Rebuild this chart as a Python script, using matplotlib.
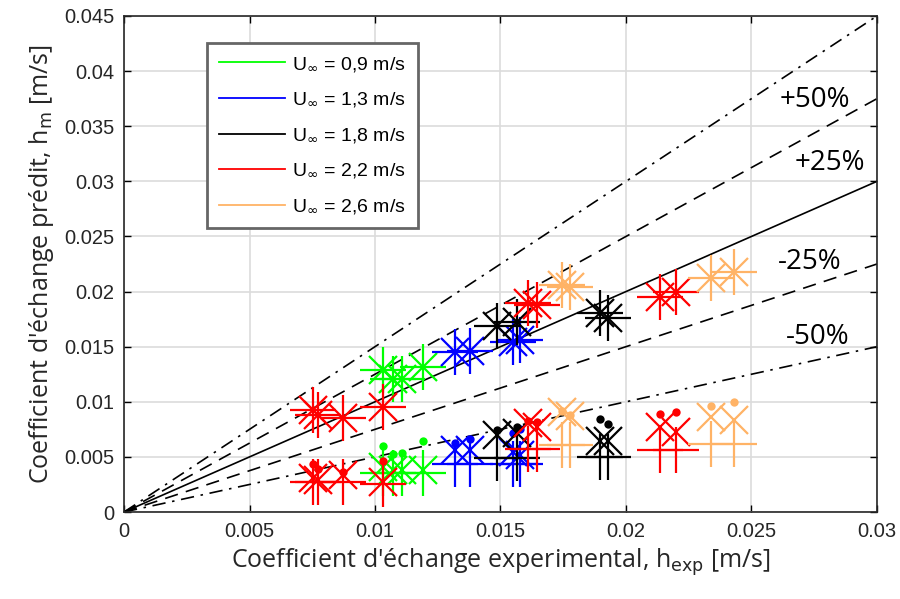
import numpy as np
import matplotlib.pyplot as plt

# Vitesses et couleurs
labels = ['0,9', '1,3', '1,8', '2,2', '2,6']
colors = ['#00ff00', '#0000ff', '#000000', '#ff0000', '#ffb366']

# h_exp [m/s] pour chaque vitesse
h_exp_09 = [0.0103, 0.0107, 0.01106, 0.01192]
h_exp_13 = [0.01319, 0.01378, 0.0155, 0.01578]
h_exp_18 = [0.01486, 0.01566, 0.01898, 0.01927]
h_exp_22 = [0.00753, 0.00773, 0.00872, 0.01032, 0.0161, 0.01645, 0.02137, 0.0220]
h_exp_26 = [0.01745, 0.01777, 0.02337, 0.0243]

# h_m predit, modele 1 (asterisques)
hm_ast_09 = [0.01288, 0.01207, 0.01207, 0.01318]
hm_ast_13 = [0.01454, 0.01465, 0.01545, 0.0156]
hm_ast_18 = [0.01688, 0.0172, 0.01805, 0.0176]
hm_ast_22 = [0.0093, 0.0088, 0.0085, 0.0095, 0.0190, 0.0188, 0.0195, 0.0200]
hm_ast_26 = [0.0206, 0.0204, 0.0212, 0.0218]

# modele 2 (points)
hm_dot_09 = [0.0060, 0.00524, 0.00538, 0.00644]
hm_dot_13 = [0.00629, 0.0066, 0.00714, 0.0075]
hm_dot_18 = [0.0074, 0.0077, 0.0084, 0.0080]
hm_dot_22 = [0.00436, 0.0039, 0.0036, 0.0046, 0.0083, 0.0082, 0.0089, 0.0091]
hm_dot_26 = [0.0092, 0.0088, 0.00964, 0.0100]

# modele 3 (croix x)
hm_x_09 = [0.0041, 0.0038, 0.0038, 0.0038]
hm_x_13 = [0.00563, 0.00563, 0.00547, 0.00517]
hm_x_18 = [0.0070, 0.0072, 0.0064, 0.0064]
hm_x_22 = [0.0031, 0.0029, 0.0034, 0.0027, 0.0081, 0.0077, 0.0077, 0.0073]
hm_x_26 = [0.0091, 0.0087, 0.00865, 0.00835]

# modele 4 (croix +)
hm_p_09 = [0.0035, 0.0035, 0.0035, 0.0035]
hm_p_13 = [0.00435, 0.00435, 0.00435, 0.00435]
hm_p_18 = [0.0049, 0.0049, 0.0050, 0.0050]
hm_p_22 = [0.0027, 0.0027, 0.0027, 0.0025, 0.0057, 0.0057, 0.0056, 0.0056]
hm_p_26 = [0.0061, 0.0061, 0.0062, 0.0062]

series = [
    (h_exp_09, hm_ast_09, hm_dot_09, hm_x_09, hm_p_09),
    (h_exp_13, hm_ast_13, hm_dot_13, hm_x_13, hm_p_13),
    (h_exp_18, hm_ast_18, hm_dot_18, hm_x_18, hm_p_18),
    (h_exp_22, hm_ast_22, hm_dot_22, hm_x_22, hm_p_22),
    (h_exp_26, hm_ast_26, hm_dot_26, hm_x_26, hm_p_26),
]

fig = plt.figure(figsize=(9, 5.99), dpi=100)
ax = fig.add_axes([0.1378, 0.1452, 0.8366, 0.8281])

# droites de reference
xl = np.array([0, 0.03])
ax.plot(xl, xl, 'k-', lw=1.2)
ax.plot(xl, 1.25 * xl, 'k', lw=1.2, dashes=(8, 5))
ax.plot(xl, 0.75 * xl, 'k', lw=1.2, dashes=(8, 5))
ax.plot(xl, 1.5 * xl, 'k', lw=1.2, dashes=(8, 4, 1.5, 4))
ax.plot(xl, 0.5 * xl, 'k', lw=1.2, dashes=(8, 4, 1.5, 4))

mew = 1.6
for (hx, ha, hd, hxx, hp), c in zip(series, colors):
    ax.plot(hx, ha, '+', color=c, ms=33, mew=mew, ls='none')
    ax.plot(hx, ha, 'x', color=c, ms=19.5, mew=mew, ls='none')
    ax.plot(hx, hp, '+', color=c, ms=33, mew=mew, ls='none')
    ax.plot(hx, hxx, 'x', color=c, ms=19.5, mew=mew, ls='none')
    ax.plot(hx, hd, 'o', color=c, ms=6, mew=0, ls='none')

# legende
handles = [plt.Line2D([], [], color=c, lw=1.3) for c in colors]
leg = ax.legend(handles, ['U$_\\infty$ = %s m/s' % l for l in labels],
                loc='upper left', bbox_to_anchor=(0.11, 0.945), borderaxespad=0,
                prop={'family': 'Liberation Sans', 'size': 14},
                handlelength=3.4, handletextpad=0.4, labelspacing=0.87,
                borderpad=0.6, fancybox=False, framealpha=1, shadow=False)
leg.get_frame().set_edgecolor('#666666')
leg.get_frame().set_linewidth(2)

# etiquettes des droites
pfont = {'family': 'Open Sans', 'size': 20, 'va': 'center'}
ax.text(0.02614, 0.03738, '+50%', **pfont)
ax.text(0.02673, 0.03167, '+25%', **pfont)
ax.text(0.02606, 0.02268, '-25%', **pfont)
ax.text(0.02639, 0.01588, '-50%', **pfont)

ax.set_xlim(0, 0.03)
ax.set_ylim(0, 0.045)
ax.set_xticks(np.arange(0, 0.0301, 0.005))
ax.set_yticks(np.arange(0, 0.0451, 0.005))
ax.set_xticklabels(['0', '0.005', '0.01', '0.015', '0.02', '0.025', '0.03'])
ax.set_yticklabels(['0', '0.005', '0.01', '0.015', '0.02', '0.025', '0.03',
                    '0.035', '0.04', '0.045'])
ax.tick_params(direction='in', top=True, right=True, length=5, width=1,
               labelsize=14.5, labelcolor='#262626', pad=7)
for t in ax.get_xticklabels() + ax.get_yticklabels():
    t.set_family('Liberation Sans')
ax.grid(True, color='#dcdcdc', lw=1.2)
ax.set_axisbelow(True)
for s in ax.spines.values():
    s.set_linewidth(1.2)
    s.set_color('#262626')

lfont = {'family': 'Open Sans', 'size': 18, 'color': '#262626'}
ax.set_xlabel("Coefficient d'échange experimental, h$_{\\mathrm{exp}}$ [m/s]", labelpad=4, **lfont)
ax.set_ylabel("Coefficient d'échange prédit, h$_{\\mathrm{m}}$ [m/s]", labelpad=6, **lfont)

fig.savefig('out.png', dpi=100)
